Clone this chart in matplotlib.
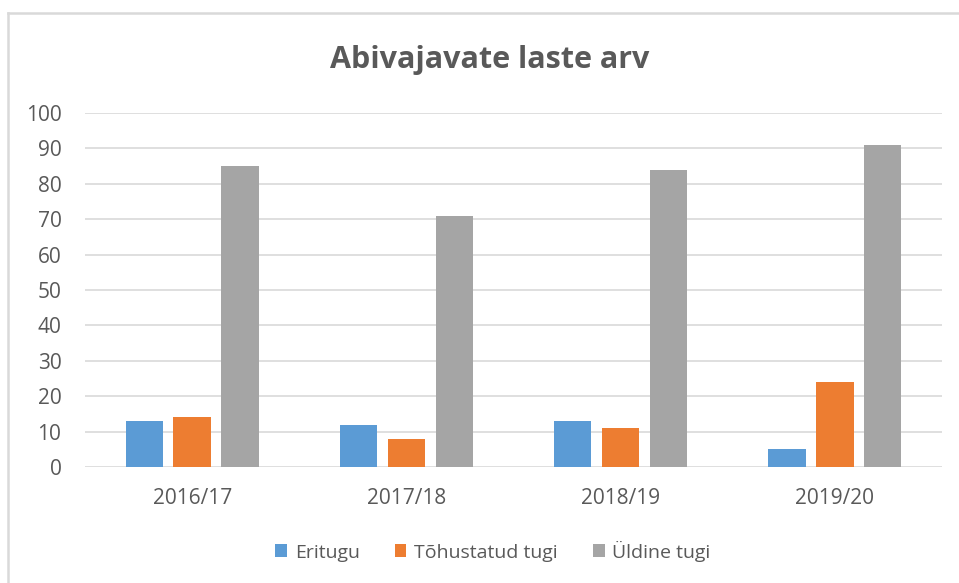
import matplotlib
matplotlib.use("Agg")
import matplotlib.pyplot as plt
import numpy as np
from matplotlib.lines import Line2D

categories = ["2016/17", "2017/18", "2018/19", "2019/20"]
series_names = ["Eritugu", "Tõhustatud tugi", "Üldine tugi"]
eritugu = [13, 12, 13, 5]
tohustatud = [14, 8, 11, 24]
uldine = [85, 71, 84, 91]
yticks = [0, 10, 20, 30, 40, 50, 60, 70, 80, 90, 100]

colors = ["#5B9BD5", "#ED7D31", "#A5A5A5"]
text_color = "#595959"

plt.rcParams['font.family'] = ['Open Sans', 'DejaVu Sans']

fig = plt.figure(figsize=(9.59, 5.83), dpi=100)
frame_x = 8 / 959
frame_y = 1 - 12.5 / 583
fig.lines.append(Line2D([frame_x, 1.0], [frame_y, frame_y], transform=fig.transFigure,
                        color="#D9D9D9", linewidth=1.8))
fig.lines.append(Line2D([frame_x, frame_x], [0, frame_y], transform=fig.transFigure,
                        color="#D9D9D9", linewidth=1.8))

ax = fig.add_axes([85/959, 1 - 467/583, (942 - 85)/959, (467 - 113)/583])

x = np.arange(len(categories))
w = 0.174
step = 0.223
for i, (vals, name) in enumerate(zip([eritugu, tohustatud, uldine], series_names)):
    ax.bar(x + (i - 1) * step, vals, width=w, color=colors[i], label=name, zorder=3)

ax.set_xlim(-0.5, len(categories) - 0.5)
ax.set_ylim(0, 100)
ax.set_yticks(yticks)
ax.set_xticks(x)
ax.set_xticklabels(categories)
ax.yaxis.grid(True, color="#D9D9D9", linewidth=1.2, zorder=0)
for s in ax.spines.values():
    s.set_visible(False)
ax.tick_params(axis="both", length=0, labelsize=15, colors=text_color)
ax.tick_params(axis="x", pad=15)
ax.tick_params(axis="y", pad=17)

fig.text(490/959, 1 - 60/583, "Abivajavate laste arv", ha="center", va="center",
         fontsize=22, fontweight="bold", color=text_color)

fig.legend(loc="center", bbox_to_anchor=(493/959, 1 - 551/583), ncol=3, frameon=False,
           fontsize=14, labelcolor=text_color, handlelength=0.6, handleheight=0.6,
           handletextpad=0.4, columnspacing=1.8)

fig.savefig("out.png", dpi=100)
